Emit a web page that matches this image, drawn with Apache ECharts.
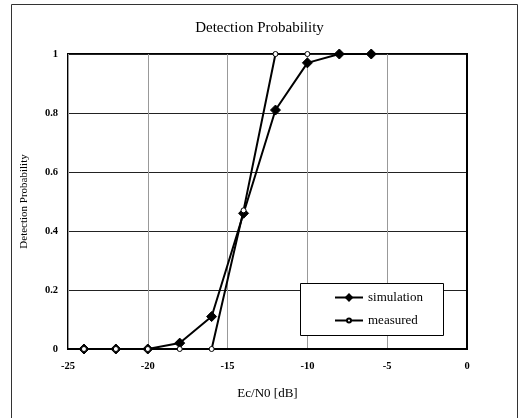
<!DOCTYPE html>
<html>
<head>
<meta charset="UTF-8">
<title>Detection Probability</title>
<script src="https://cdn.jsdelivr.net/npm/echarts@6/dist/echarts.min.js"></script>
<style>
  html, body { margin: 0; padding: 0; background: #fff; }
  #chart { width: 519px; height: 418px; }
</style>
</head>
<body>
<div id="chart"></div>
<script type="text/javascript">
    // Ec/N0 sample points (dB)
    var ecn0 = [-24, -22, -20, -18, -16, -14, -12, -10, -8, -6];
    var simulation = [0, 0, 0, 0.02, 0.11, 0.46, 0.81, 0.97, 1, 1];
    var measured = [0, 0, 0, 0, 0, 0.47, 1, 1, null, null];

    function pairs(xs, ys) {
        return xs.map(function (x, i) { return [x, ys[i]]; });
    }

    var serif = '"Liberation Serif", "DejaVu Serif", serif';
    var legendText = { fontFamily: serif, fontSize: 13, color: '#000' };
    var chart = echarts.init(document.getElementById('chart'));
    chart.setOption({
        animation: false,
        backgroundColor: '#fff',
        textStyle: { fontFamily: serif, color: '#000' },
        title: {
            text: 'Detection Probability',
            left: 'center',
            top: 16,
            textStyle: { fontFamily: serif, fontSize: 15, fontWeight: 'normal', color: '#000' }
        },
        graphic: [{
            type: 'rect',
            shape: { x: 11.5, y: 4.5, width: 506, height: 430 },
            style: { fill: 'none', stroke: '#333', lineWidth: 1 },
            z: -1
        }, {
            type: 'rect',
            shape: { x: 300.5, y: 283.5, width: 143, height: 52 },
            style: { fill: '#fff', stroke: '#000', lineWidth: 1 },
            z: 5
        }],
        grid: {
            left: 68, right: 52, top: 54, bottom: 69,
            show: true, borderColor: '#000', borderWidth: 2
        },
        legend: [{
            left: 334, top: 291,
            padding: 0,
            itemWidth: 28, itemHeight: 11,
            textStyle: legendText,
            data: ['simulation'],
            z: 6
        }, {
            left: 334, top: 314,
            padding: 0,
            itemWidth: 28, itemHeight: 5,
            textStyle: legendText,
            data: ['measured'],
            z: 6
        }],
        xAxis: {
            type: 'value',
            min: -25, max: 0, interval: 5,
            name: 'Ec/N0 [dB]',
            nameLocation: 'middle',
            nameGap: 38,
            nameTextStyle: { fontFamily: serif, fontSize: 13, color: '#000' },
            axisLine: { show: true, lineStyle: { color: '#000', width: 2 } },
            axisTick: { show: false },
            axisLabel: { fontFamily: serif, fontSize: 10.5, fontWeight: 'bold', color: '#000', margin: 12 },
            splitLine: { show: true, lineStyle: { color: '#999', width: 1 } }
        },
        yAxis: {
            type: 'value',
            min: 0, max: 1, interval: 0.2,
            name: 'Detection Probability',
            nameLocation: 'middle',
            nameGap: 38,
            nameTextStyle: { fontFamily: serif, fontSize: 11, color: '#000' },
            axisLine: { show: true, lineStyle: { color: '#000', width: 2 } },
            axisTick: { show: false },
            axisLabel: { fontFamily: serif, fontSize: 10.5, fontWeight: 'bold', color: '#000', margin: 10 },
            splitLine: { show: true, lineStyle: { color: '#222', width: 1 } }
        },
        series: [{
            name: 'simulation',
            type: 'line',
            data: pairs(ecn0, simulation),
            symbol: 'diamond',
            symbolSize: 10,
            lineStyle: { color: '#000', width: 2 },
            itemStyle: { color: '#000', borderColor: '#000' },
            z: 3
        }, {
            name: 'measured',
            type: 'line',
            data: pairs(ecn0, measured),
            symbol: 'circle',
            symbolSize: 5,
            lineStyle: { color: '#000', width: 2 },
            itemStyle: { color: '#fff', borderColor: '#000', borderWidth: 1 },
            z: 4
        }]
    });
</script>
</body>
</html>
